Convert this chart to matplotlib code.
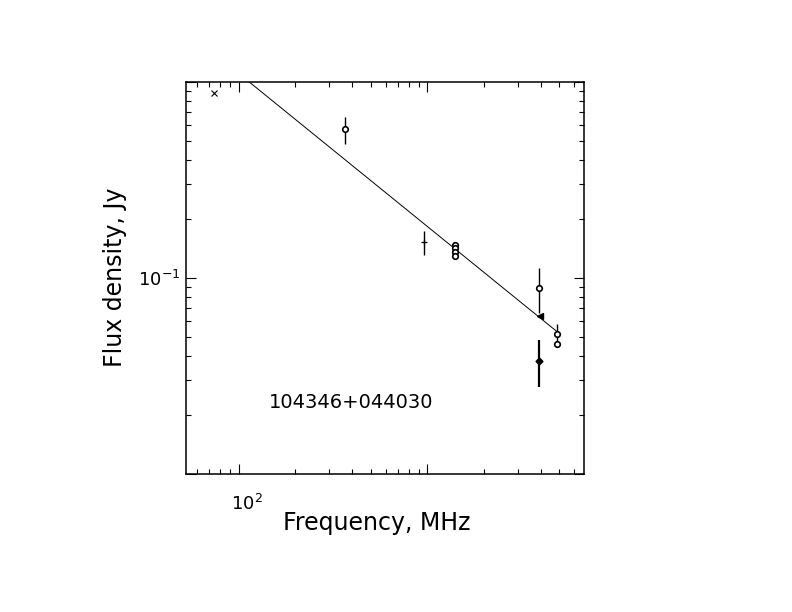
import numpy as np
import matplotlib.pyplot as plt
import matplotlib.transforms as mtransforms
from matplotlib.ticker import FixedLocator, FixedFormatter, LogLocator, NullFormatter

plt.rcParams["font.family"] = "DejaVu Sans"
plt.rcParams["mathtext.fontset"] = "dejavusans"

source_name = "104346+044030"

vlss_freq = [74]
vlss_flux = [0.874]

texas_freq = [365]
texas_flux = [0.573]
texas_err = [0.089]

ratan_lo_freq = [960]
ratan_lo_flux = [0.152]
ratan_lo_err = [0.021]

nvss_freq = [1400, 1400, 1400, 1400]
nvss_flux = [0.148, 0.142, 0.136, 0.130]

ratan_hi_freq = [3900]
ratan_hi_flux = [0.089]
ratan_hi_err = [0.023]

tri_freq = [3950]
tri_flux = [0.0643]

diamond_freq = [3900]
diamond_flux = [0.0379]
diamond_err = [0.0101]

gb6_freq = [4850, 4850]
gb6_flux = [0.0515, 0.0458]
gb6_err = [0.0064, 0.0]

# power law fit: log S = norm + alpha * log nu
fit_norm = 1.605
fit_alpha = -0.781
fit_range = [74, 4850]

fig = plt.figure(figsize=(7.92, 6.12), dpi=100)
ax = fig.add_axes([0.2352, 0.2255, 0.5022, 0.6408])
ax.set_xscale("log")
ax.set_yscale("log")
ax.set_xlim(52.8, 6750)
ax.set_ylim(0.01, 1.0)

nu = np.array(fit_range, dtype=float)
ax.plot(nu, 10 ** (fit_norm + fit_alpha * np.log10(nu)), color="black", lw=0.7)

ax.plot(vlss_freq, vlss_flux, "x", color="black", ms=4, mew=0.8)
ax.errorbar(texas_freq, texas_flux, yerr=texas_err, fmt="o", color="black",
            mfc="white", ms=4, mew=1.2, elinewidth=1.0, capsize=0)
ax.errorbar(ratan_lo_freq, ratan_lo_flux, yerr=ratan_lo_err, fmt="+", color="black",
            ms=5, mew=0.9, elinewidth=1.0, capsize=0)
ax.plot(nvss_freq, nvss_flux, "o", color="black", mfc="white", ms=4, mew=1.2)
ax.errorbar(ratan_hi_freq, ratan_hi_flux, yerr=ratan_hi_err, fmt="o", color="black",
            mfc="white", ms=4, mew=1.2, elinewidth=1.0, capsize=0)
ax.plot(tri_freq, tri_flux, "<", color="black", ms=4)
ax.errorbar(diamond_freq, diamond_flux, yerr=diamond_err, fmt="D", color="black",
            ms=3.5, elinewidth=1.6, capsize=0)
ax.errorbar(gb6_freq, gb6_flux, yerr=gb6_err, fmt="o", color="black",
            mfc="white", ms=4, mew=1.2, elinewidth=1.0, capsize=0)

# only one labelled decade on each axis, like the original
ax.xaxis.set_major_locator(FixedLocator([100, 1000]))
ax.xaxis.set_major_formatter(FixedFormatter([r"$10^{2}$", ""]))
ax.xaxis.set_minor_locator(LogLocator(base=10, subs=np.arange(2, 10)))
ax.xaxis.set_minor_formatter(NullFormatter())
ax.yaxis.set_major_locator(FixedLocator([0.01, 0.1, 1.0]))
ax.yaxis.set_major_formatter(FixedFormatter(["", r"$10^{-1}$", ""]))
ax.yaxis.set_minor_locator(LogLocator(base=10, subs=np.arange(2, 10)))
ax.yaxis.set_minor_formatter(NullFormatter())

ax.tick_params(which="both", direction="in", top=True, right=True, width=0.8, colors="black")
ax.tick_params(which="major", length=7)
ax.tick_params(which="minor", length=3.5)
ax.tick_params(axis="x", which="major", pad=14, labelsize=13)
ax.tick_params(axis="y", which="major", pad=4, labelsize=13)
for spine in ax.spines.values():
    spine.set_linewidth(1.1)

# the "10" sits under the tick, exponent hangs to the right
shift = mtransforms.ScaledTranslation(6 / 72, 0, fig.dpi_scale_trans)
for label in ax.get_xticklabels():
    label.set_transform(label.get_transform() + shift)

ax.set_xlabel("Frequency, MHz", fontsize=17, va="center")
ax.xaxis.set_label_coords(0.4795, -0.125)
ax.set_ylabel("Flux density, Jy", fontsize=17, va="center")
ax.yaxis.set_label_coords(-0.179, 0.501)

ax.text(0.4154, 0.1818, source_name, transform=ax.transAxes, fontsize=14,
        ha="center", va="center")

fig.savefig("out.png", dpi=100)
